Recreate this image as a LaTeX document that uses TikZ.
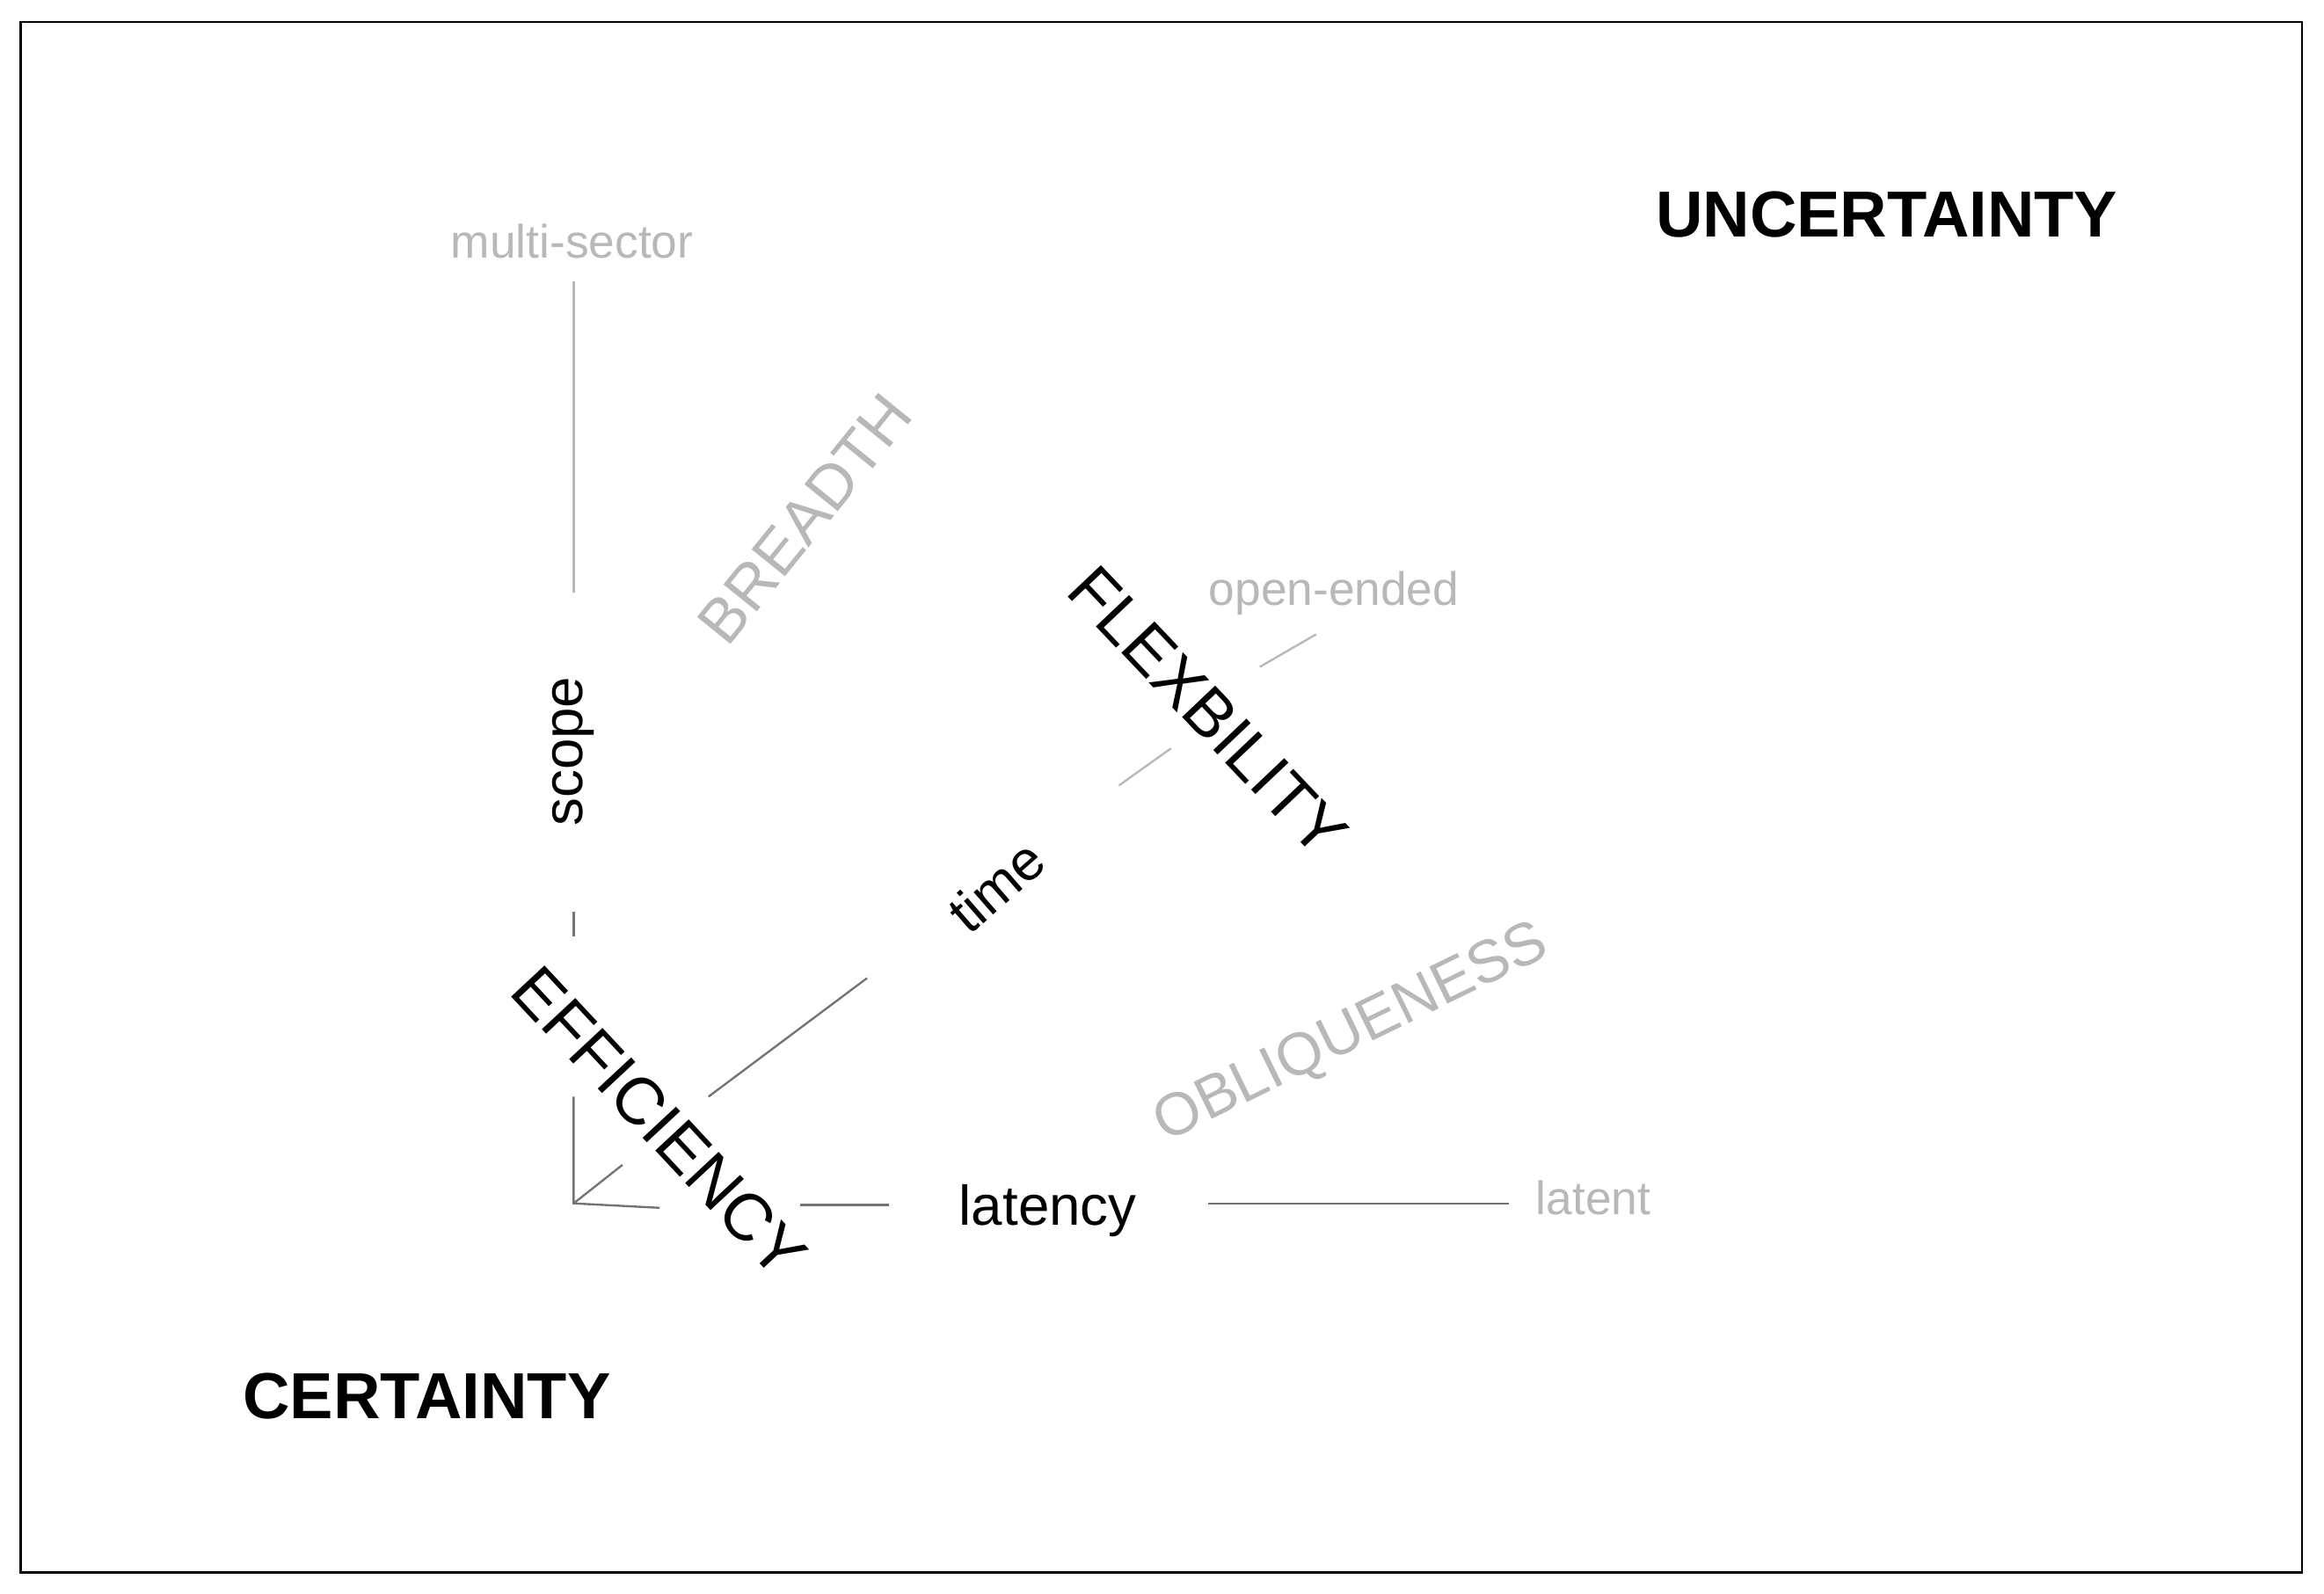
\documentclass[tikz,border=0pt]{standalone}
\usepackage{fontspec}
\setmainfont{Liberation Sans}
\definecolor{lg}{gray}{0.72}
\definecolor{mg}{gray}{0.45}
\begin{document}
\begin{tikzpicture}[x=0.02cm,y=-0.02cm,
  fs/.style={font=\fontsize{#1}{#1}\selectfont},
  fsb/.style={font=\fontsize{#1}{#1}\selectfont\bfseries},
  ln/.style={line width=0.8pt,mg},
  lln/.style={line width=0.8pt,lg},
  txt/.style={inner sep=0pt}]
\useasboundingbox (0,0) rectangle (1568,1075);
\draw[line width=0.8pt] (14,15) rectangle (1553,1061);
\node[txt,fs=18,lg] (ms) at (386,163) {multi-sector};
\node[txt,fs=21.5,rotate=90] (scope) at (387,507) {scope};
\node[txt,fs=25.5,rotate=-47] (eff) at (445,757) {EFFICIENCY};
\node[txt,fs=21.5,rotate=41] (time) at (672,598) {time};
\node[txt,fs=25.5,rotate=-46.5] (flex) at (815,480) {FLEXBILITY};
\node[txt,fs=18,lg] (oe) at (900,400) {open-ended};
\node[txt,fs=24,lg,rotate=51] (br) at (543,350) {BREADTH};
\node[txt,fs=23,lg,rotate=26] (ob) at (912,698) {OBLIQUENESS};
\node[txt,fs=21.5] (lat) at (707,817) {latency};
\node[txt,fs=18,lg] (lt) at (1075,808) {latent};
\node[txt,fsb=25] (unc) at (1273,145) {UNCERTAINTY};
\node[txt,fsb=25] (cer) at (288,942) {CERTAINTY};
\coordinate (o) at (387,812);
\coordinate (a) at (387,190); \coordinate (b) at (387,400);
\coordinate (c) at (387,615); \coordinate (d) at (387,632);
\coordinate (e) at (387,740);
\draw[lln] (a) -- (b);
\draw[ln] (c) -- (d);
\draw[ln] (e) -- (o) -- (445,815);
\draw[ln] (o) -- (420,786);
\draw[ln] (478,740) -- (585,660);
\draw[ln] (540,813) -- (600,813);
\draw[ln] (815,812) -- (1018,812);
\draw[lln] (755,530) -- (790,505);
\draw[lln] (850,450) -- (888,428);
\end{tikzpicture}
\end{document}
